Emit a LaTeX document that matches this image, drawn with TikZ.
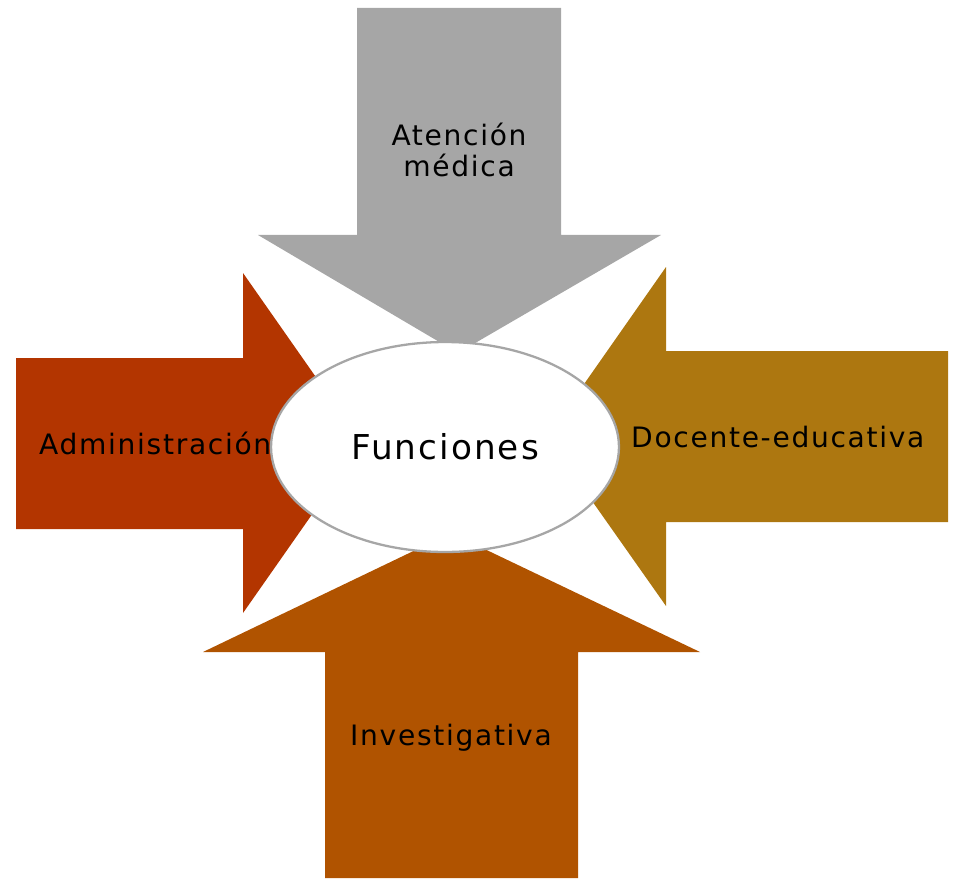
\documentclass[tikz,border=0pt]{standalone}
\usepackage{fontspec}
\setmainfont{DejaVu Sans}[LetterSpace=6]
\usetikzlibrary{shapes.geometric}
\definecolor{gris}{HTML}{A6A6A6}
\definecolor{rojizo}{HTML}{B33500}
\definecolor{dorado}{HTML}{AD7710}
\definecolor{naranja}{HTML}{B05300}
\begin{document}
\begin{tikzpicture}[x=0.02cm, y=-0.02cm, texto/.style={font=\fontsize{16}{17.6}\selectfont, text=black, align=center}] %Escala en pixeles
	\useasboundingbox (0,0) rectangle (955,878); %Margenes
		%Flechas
	\fill[gris] (357,8) -- (561,8) -- (561,235) -- (661,235) -- (458,353) -- (258,235) -- (357,235) -- cycle; %Flecha superior
	\fill[rojizo] (16,358) -- (243,358) -- (243,273) -- (362,443) -- (243,613) -- (243,529) -- (16,529) -- cycle; %Flecha izquierda
	\fill[dorado] (948,351) -- (666,351) -- (666,267) -- (547,437) -- (666,606) -- (666,522) -- (948,522) -- cycle; %Flecha derecha
	\fill[naranja] (325,878) -- (578,878) -- (578,652) -- (700,652) -- (451,533) -- (203,652) -- (325,652) -- cycle; %Flecha inferior
		%Textos
	\node[texto] (med) at (459,150) {Atención\\médica}; %Arriba
	\node[texto, anchor=west] (adm) at (33,443) {Administración}; %Izquierda
	\node[texto, anchor=west] (doc) at (625,437) {Docente-educativa}; %Derecha
	\node[texto] (inv) at (451,738) {Investigativa}; %Abajo
		%Centro
	\node[ellipse, draw=gris, line width=1.3pt, fill=white, minimum width=6.96cm, minimum height=4.2cm, inner sep=0pt, font=\fontsize{19.5}{24}\selectfont] (fun) at (445,447) {Funciones}; %Elipse
\end{tikzpicture}
\end{document}
